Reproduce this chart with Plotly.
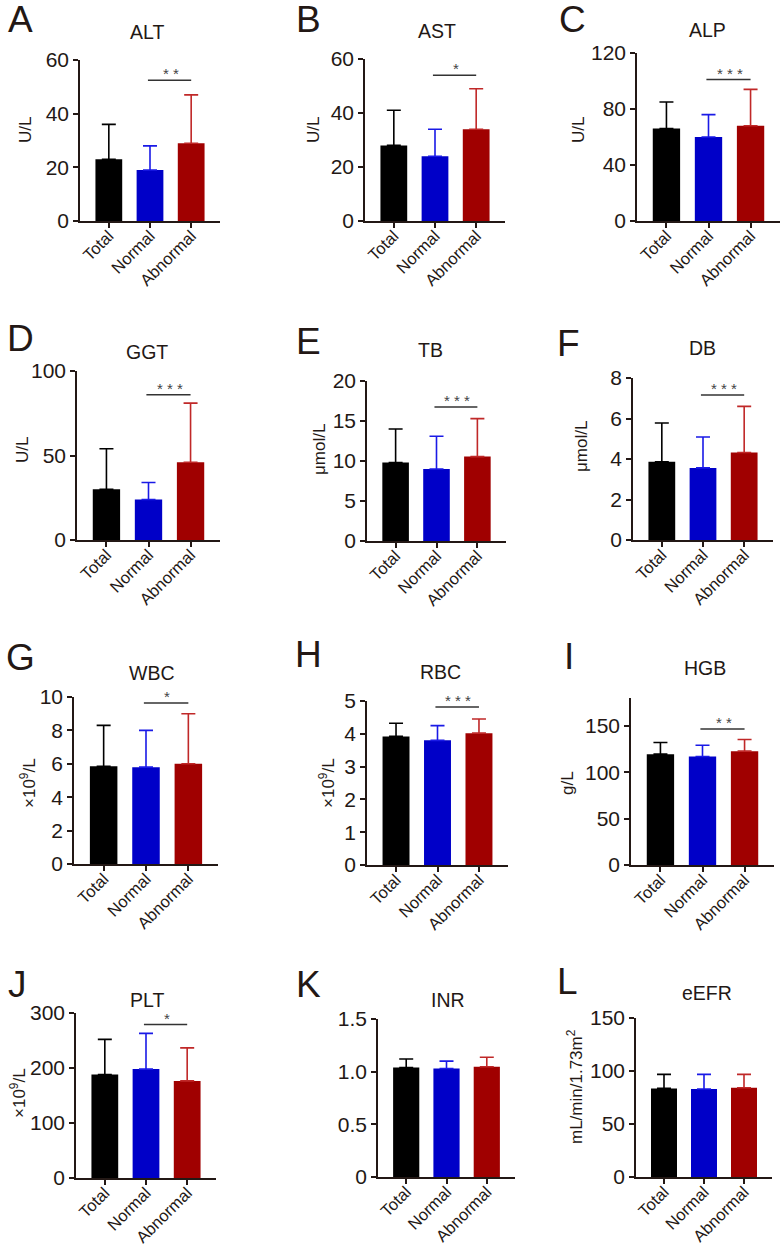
import plotly.graph_objects as go
from plotly.subplots import make_subplots

groups = ['Total', 'Normal', 'Abnormal']
tests = ['ALT', 'AST', 'ALP', 'GGT', 'TB', 'DB', 'WBC', 'RBC', 'HGB', 'PLT', 'INR', 'eEFR']
letters = ['A', 'B', 'C', 'D', 'E', 'F', 'G', 'H', 'I', 'J', 'K', 'L']
units = ['U/L', 'U/L', 'U/L', 'U/L', 'μmol/L', 'μmol/L',
         '×10<sup>9</sup>/L', '×10<sup>9</sup>/L', 'g/L', '×10<sup>9</sup>/L', '',
         'mL/min/1.73m<sup>2</sup>']

# mean and SD (upper error only)
total_mean = [23, 28, 66, 30, 9.8, 3.86, 5.85, 3.92, 119.5, 188, 1.04, 83.6]
total_sd = [13, 13, 19, 24, 4.2, 1.92, 2.45, 0.40, 12.5, 64, 0.08, 13.2]
normal_mean = [19, 24, 60, 24, 9.0, 3.56, 5.8, 3.80, 117, 198, 1.03, 83]
normal_sd = [9, 10, 16, 10, 4.1, 1.53, 2.2, 0.45, 12, 65, 0.07, 13.8]
abnormal_mean = [29, 34, 68, 46, 10.55, 4.32, 6.0, 4.02, 122.7, 176.5, 1.047, 84.2]
abnormal_sd = [18, 15, 26, 35, 4.75, 2.28, 3.0, 0.43, 12.5, 60, 0.09, 12.6]

sig_stars = ['* *', '*', '* * *', '* * *', '* * *', '* * *', '*', '* * *', '* *', '*', '', '']
sig_height = [52.5, 54, 101, 86, 16.75, 7.16, 9.64, 4.82, 146.7, 279, None, None]

y_max = [60, 60, 120, 100, 20, 8, 10, 5, 180, 300, 1.5, 150]
y_ticks = [[0, 20, 40, 60], [0, 20, 40, 60], [0, 40, 80, 120], [0, 50, 100],
           [0, 5, 10, 15, 20], [0, 2, 4, 6, 8], [0, 2, 4, 6, 8, 10], [0, 1, 2, 3, 4, 5],
           [0, 50, 100, 150], [0, 100, 200, 300], [0, 0.5, 1.0, 1.5], [0, 50, 100, 150]]
y_ticktext = [[str(v) for v in t] for t in y_ticks]
y_ticktext[10] = ['0', '0.5', '1.0', '1.5']

# ---- layout (pixels in a 782 x 1246 page) ----
W, H = 782, 1246
x_left = [80, 365, 637, 77, 367, 633, 74, 367, 631, 76, 378, 636]
x_right = [220, 505, 780, 220, 506, 773, 218, 508, 774, 216, 515, 772]
y_top = [60, 59, 53, 371, 381, 378, 697, 701, 698, 1013, 1019, 1018]
y_bottom = [221, 221, 221, 540, 541, 540, 864, 865, 865, 1178, 1177, 1177]
title_pos = [(147, 32), (437, 31), (707, 30), (147, 352), (430, 350), (702, 348),
             (152, 673), (440, 672), (705, 668), (147, 1000), (448, 1000), (707, 993)]
letter_pos = [(20, 19), (308, 19), (572, 19), (20, 338), (308, 341), (568, 343),
              (20, 657), (308, 654), (569, 656), (17, 984), (308, 984), (567, 981)]
unit_pos = [(25, 130), (313, 130), (578, 130), (22, 450), (319, 450), (582, 447),
            (28, 783), (327, 783), (567, 783), (18, 1093), (None, None), (575, 1087)]

bar_colors = ['#000000', '#0000c8', '#a00000']
err_colors = ['#000000', '#1a1ae6', '#c02828']
ink = '#231815'
font_family = 'Liberation Sans, Arial, sans-serif'


def px(x, y):
    return x / W, 1 - y / H


fig = make_subplots(rows=4, cols=3)

annotations = []
shapes = []
for i, test in enumerate(tests):
    row, col = i // 3 + 1, i % 3 + 1
    means = [total_mean[i], normal_mean[i], abnormal_mean[i]]
    sds = [total_sd[i], normal_sd[i], abnormal_sd[i]]
    for g in range(3):
        fig.add_trace(
            go.Bar(
                x=[groups[g]],
                y=[means[g]],
                width=0.65,
                marker={'color': bar_colors[g], 'line': {'width': 0}},
                error_y={
                    'type': 'data',
                    'symmetric': False,
                    'array': [sds[g]],
                    'arrayminus': [0],
                    'color': err_colors[g],
                    'thickness': 1.6,
                    'width': 7,
                },
                showlegend=False,
                hoverinfo='skip',
            ),
            row=row, col=col,
        )

    n = '' if i == 0 else str(i + 1)
    fig.layout[f'xaxis{n}'].update(
        domain=[x_left[i] / W, x_right[i] / W],
        range=[-0.7, 2.7],
        automargin=False,
        showline=True, linecolor=ink, linewidth=1.5,
        ticks='outside', ticklen=5, tickwidth=1.5, tickcolor=ink,
        tickangle=-45,
        ticklabelstandoff=-8,
        tickfont={'size': 16.5, 'color': ink, 'family': font_family},
        showgrid=False, zeroline=False,
    )
    fig.layout[f'yaxis{n}'].update(
        domain=[1 - y_bottom[i] / H, 1 - y_top[i] / H],
        range=[0, y_max[i]],
        automargin=False,
        tickvals=y_ticks[i], ticktext=y_ticktext[i],
        showline=True, linecolor=ink, linewidth=1.5,
        ticks='outside', ticklen=5, tickwidth=1.5, tickcolor=ink,
        tickfont={'size': 21, 'color': ink, 'family': font_family},
        showgrid=False, zeroline=False,
    )

    tx, ty = px(*title_pos[i])
    annotations.append(dict(x=tx, y=ty, xref='paper', yref='paper', text=test,
                            showarrow=False, xanchor='center', yanchor='middle',
                            font={'size': 19.5, 'color': ink, 'family': font_family}))
    lx, ly = px(*letter_pos[i])
    annotations.append(dict(x=lx, y=ly, xref='paper', yref='paper', text=letters[i],
                            showarrow=False, xanchor='center', yanchor='middle',
                            font={'size': 37, 'color': ink, 'family': font_family}))
    if units[i]:
        ux, uy = px(*unit_pos[i])
        annotations.append(dict(x=ux, y=uy, xref='paper', yref='paper', text=units[i],
                                showarrow=False, xanchor='center', yanchor='middle',
                                textangle=-90,
                                font={'size': 17, 'color': ink, 'family': font_family}))
    if sig_stars[i]:
        xr, yr = f'x{n}', f'y{n}'
        shapes.append(dict(type='line', xref=xr, yref=yr, x0=0.95, x1=2.0,
                           y0=sig_height[i], y1=sig_height[i],
                           line={'color': '#333333', 'width': 1.5}))
        annotations.append(dict(x=1.5, y=sig_height[i], xref=xr, yref=yr,
                                text=sig_stars[i], showarrow=False,
                                xanchor='center', yanchor='bottom', yshift=-4,
                                font={'size': 15, 'color': '#444444', 'family': font_family}))

layout = {
    'width': W,
    'height': H,
    'margin': {'l': 0, 'r': 0, 't': 0, 'b': 0, 'autoexpand': False},
    'paper_bgcolor': 'white',
    'plot_bgcolor': 'white',
    'bargap': 0.35,
    'annotations': annotations,
    'shapes': shapes,
    'font': {'family': font_family, 'color': ink},
}
fig.update_layout(layout)

# the page body has a default 8px margin; drop it so the figure fills the window
fig.write_html('out.html', config={'displayModeBar': False},
               post_script="document.body.style.margin='0';")
